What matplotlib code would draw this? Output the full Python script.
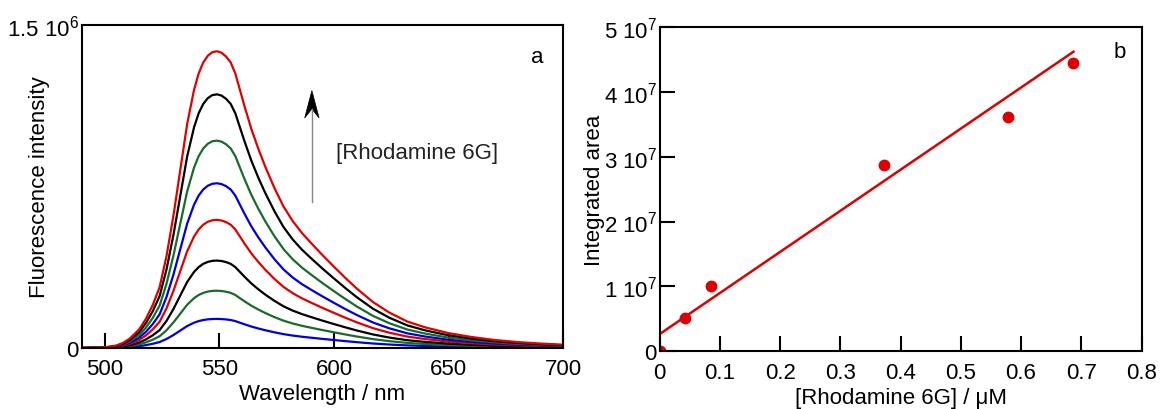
import numpy as np
import matplotlib
matplotlib.use("Agg")
import matplotlib.pyplot as plt
from matplotlib.patches import Polygon

plt.rcParams['font.family'] = ['Liberation Sans', 'DejaVu Sans']
plt.rcParams['mathtext.fontset'] = 'custom'
plt.rcParams['mathtext.rm'] = 'Liberation Sans'
plt.rcParams['mathtext.default'] = 'regular'

# Emission band shape (normalised to the 549 nm maximum)
wavelength = [490, 500, 505, 508, 511, 515, 518, 521, 524, 527, 530, 533, 536, 539,
              541, 543, 545, 547, 549, 551, 553, 555, 557, 559, 561, 564, 567, 570,
              574, 578, 582, 586, 590, 595, 600, 605, 610, 617, 624, 632, 640, 650,
              660, 670, 680, 690, 700]
band_shape = [0.0, 0.002, 0.008, 0.017, 0.032, 0.062, 0.098, 0.145, 0.205, 0.31, 0.445,
              0.60, 0.755, 0.87, 0.925, 0.962, 0.985, 0.997, 1.0, 0.995, 0.982, 0.962,
              0.925, 0.87, 0.815, 0.738, 0.672, 0.612, 0.54, 0.477, 0.428, 0.388,
              0.354, 0.313, 0.274, 0.236, 0.2, 0.155, 0.12, 0.089, 0.069, 0.05,
              0.037, 0.027, 0.02, 0.015, 0.011]

# Peak intensities, lowest to highest concentration
peak_heights = [0.135e6, 0.266e6, 0.406e6, 0.595e6, 0.765e6, 0.963e6, 1.178e6, 1.378e6]
curve_colors = ['#0000dd', '#1a6b2a', '#000000', '#e00000',
                '#0000dd', '#1a6b2a', '#000000', '#e00000']

# Calibration data
concentration = [0.0, 0.042, 0.085, 0.373, 0.579, 0.687]
integrated_area = [0.0, 5.1e6, 10.1e6, 28.7e6, 36.2e6, 44.5e6]
fit_slope = 63.5e6
fit_intercept = 2.6e6

RED = '#dd0000'
FS = 16
TICK_KW = dict(direction='in', length=11, width=1.5, labelsize=FS, color='black')

fig = plt.figure(figsize=(11.6, 4.1), dpi=100)
ax1 = fig.add_axes([0.0704, 0.1488, 0.4152, 0.7878])
ax2 = fig.add_axes([0.5686, 0.1415, 0.4155, 0.7895])

# --- panel a: spectra ---
shape = np.array(band_shape)
for height, color in zip(peak_heights, curve_colors):
    ax1.plot(wavelength, height * shape, color=color, lw=1.6)

ax1.set_xlim(490, 700)
ax1.set_ylim(0, 1.5e6)
ax1.set_xticks([500, 550, 600, 650, 700])
ax1.set_yticks([0, 1.5e6])
ax1.set_yticklabels(['0', '1.5 10$^{6}$'])
ax1.tick_params(axis='x', pad=7, **TICK_KW)
ax1.tick_params(axis='y', length=0, pad=2, labelsize=FS)
ax1.set_xlabel('Wavelength / nm', fontsize=FS)
ax1.set_ylabel('Fluorescence intensity', fontsize=FS)
ax1.xaxis.set_label_coords(0.5, -0.108)
ax1.yaxis.set_label_coords(-0.066, 0.5)

# concentration arrow: grey shaft, black notched head
ax1.plot([0.478, 0.478], [0.452, 0.74], color='#888888', lw=1.0, transform=ax1.transAxes)
head = Polygon([[0.478, 0.797], [0.463, 0.712], [0.478, 0.74], [0.493, 0.712]],
               closed=True, facecolor='black', edgecolor='black', lw=0.5,
               transform=ax1.transAxes)
ax1.add_patch(head)
ax1.text(0.528, 0.606, '[Rhodamine 6G]', transform=ax1.transAxes, fontsize=FS,
         color='#222222', va='center', ha='left')
ax1.text(0.945, 0.904, 'a', transform=ax1.transAxes, fontsize=FS, ha='center', va='center')

# --- panel b: calibration ---
ax2.plot(concentration, integrated_area, 'o', color=RED, ms=7.5, mec=RED)
x_fit = np.array([0.0, concentration[-1]])
ax2.plot(x_fit, fit_slope * x_fit + fit_intercept, color=RED, lw=1.8)

ax2.set_xlim(0, 0.8)
ax2.set_ylim(0, 5e7)
ax2.set_xticks([0, 0.1, 0.2, 0.3, 0.4, 0.5, 0.6, 0.7, 0.8])
ax2.set_xticklabels(['0', '0.1', '0.2', '0.3', '0.4', '0.5', '0.6', '0.7', '0.8'])
ax2.set_yticks([0, 1e7, 2e7, 3e7, 4e7, 5e7])
ax2.set_yticklabels(['0'] + [f'{k} 10$^{{7}}$' for k in range(1, 6)])
ax2.tick_params(axis='x', pad=8, **TICK_KW)
ax2.tick_params(axis='y', pad=2, **TICK_KW)
ax2.set_xlabel('[Rhodamine 6G] / μM', fontsize=FS)
ax2.set_ylabel('Integrated area', fontsize=FS)
ax2.xaxis.set_label_coords(0.5, -0.112)
ax2.yaxis.set_label_coords(-0.113, 0.5)
ax2.text(0.955, 0.926, 'b', transform=ax2.transAxes, fontsize=FS, ha='center', va='center')

for ax in (ax1, ax2):
    for spine in ax.spines.values():
        spine.set_linewidth(1.5)

fig.savefig('out.png', dpi=100)
